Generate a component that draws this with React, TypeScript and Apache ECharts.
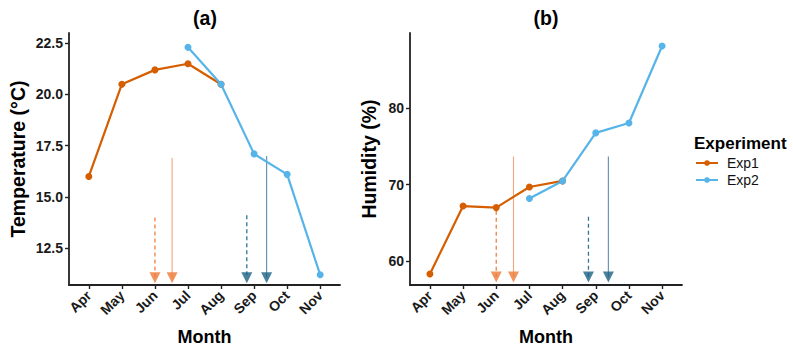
import React, { useEffect, useRef } from "react";
import * as echarts from "echarts";

// Month positions on a numeric axis (Apr = 1 ... Nov = 8)
const months = ["Apr", "May", "Jun", "Jul", "Aug", "Sep", "Oct", "Nov"];
const monthPos = [1, 2, 3, 4, 5, 6, 7, 8];

// Panel (a): temperature (°C)
const tempExp1 = [16.0, 20.5, 21.2, 21.5, 20.5]; // Apr–Aug
const tempExp2 = [22.3, 20.5, 17.1, 16.1, 11.2]; // Jul–Nov
const tempTicks = [12.5, 15.0, 17.5, 20.0, 22.5];

// Panel (b): humidity (%)
const humExp1 = [58.3, 67.2, 67.0, 69.7, 70.5]; // Apr–Aug
const humExp2 = [68.2, 70.5, 76.8, 78.1, 88.2]; // Jul–Nov
const humTicks = [60, 70, 80];

// Event markers: month position, start value, end value (per panel)
const eventX = [3.0, 3.52, 5.78, 6.38];
const eventDashed = [true, false, true, false];
const eventLineColor = ["#F08040", "#F5A57C", "#2F7399", "#5B8EAE"];
const eventHeadColor = ["#EE7A36", "#EE7A36", "#1B6283", "#1B6283"];
const tempEventStart = [14.0, 16.9, 14.1, 17.0];
const tempEventEnd = 11.05;
const humEventStart = [66.6, 73.7, 65.8, 73.7];
const humEventEnd = 57.9;

const exp1Color = "#D55E00";
const exp2Color = "#56B4E9";
const font = "'Liberation Sans', Arial, sans-serif";

function pairs(xs: number[], ys: number[]) {
  return ys.map((y, i) => [xs[i], y]);
}

function eventSeries(panel: number, starts: number[], end: number) {
  const out: any[] = [];
  eventX.forEach((x, i) => {
    out.push({
      type: "line",
      name: `event-${panel}-${i}`,
      xAxisIndex: panel,
      yAxisIndex: panel,
      data: [
        [x, starts[i]],
        [x, end],
      ],
      showSymbol: false,
      symbol: "none",
      lineStyle: {
        color: eventLineColor[i],
        width: eventDashed[i] ? 1.3 : 1.1,
        type: eventDashed[i] ? [4, 3] : "solid",
      },
      silent: true,
      z: 3,
    });
    out.push({
      type: "scatter",
      name: `head-${panel}-${i}`,
      xAxisIndex: panel,
      yAxisIndex: panel,
      data: [[x, end]],
      symbol: "triangle",
      symbolRotate: 180,
      symbolSize: [11, 11],
      itemStyle: { color: eventHeadColor[i] },
      silent: true,
      z: 4,
    });
  });
  return out;
}

function xAxisFor(gridIndex: number) {
  return {
    type: "value",
    gridIndex,
    min: 0.4,
    max: 8.6,
    name: "Month",
    nameLocation: "middle",
    nameGap: 43,
    nameTextStyle: { fontFamily: font, fontWeight: "bold", fontSize: 18, color: "#000" },
    splitLine: { show: false },
    axisLine: { show: true, onZero: false, lineStyle: { color: "#222", width: 1.8 } },
    axisTick: {
      show: true,
      customValues: monthPos,
      length: 4,
      lineStyle: { color: "#222", width: 1.4 },
    },
    axisLabel: {
      customValues: monthPos,
      rotate: 45,
      margin: 8,
      fontFamily: font,
      fontWeight: "bold",
      fontSize: 14,
      color: "#1a1a1a",
      formatter: (v: number) => months[Math.round(v) - 1] ?? "",
    },
  };
}

function yAxisFor(
  gridIndex: number,
  name: string,
  min: number,
  max: number,
  ticks: number[],
  decimals: number,
  nameGap: number
) {
  return {
    type: "value",
    gridIndex,
    min,
    max,
    name,
    nameLocation: "middle",
    nameGap,
    nameTextStyle: { fontFamily: font, fontWeight: "bold", fontSize: 19.5, color: "#000" },
    splitLine: { show: false },
    axisLine: { show: true, onZero: false, lineStyle: { color: "#222", width: 1.8 } },
    axisTick: {
      show: true,
      customValues: ticks,
      length: 4,
      lineStyle: { color: "#222", width: 1.4 },
    },
    axisLabel: {
      customValues: ticks,
      margin: 6,
      fontFamily: font,
      fontWeight: "bold",
      fontSize: 14,
      color: "#1a1a1a",
      formatter: (v: number) => v.toFixed(decimals),
    },
  };
}

function dataSeries(panel: number, name: string, color: string, xs: number[], ys: number[]) {
  return {
    type: "line",
    name,
    xAxisIndex: panel,
    yAxisIndex: panel,
    data: pairs(xs, ys),
    symbol: "circle",
    symbolSize: 7,
    showSymbol: true,
    lineStyle: { color, width: 2.2 },
    itemStyle: { color },
    z: 5,
  };
}

const titleStyle = { fontFamily: font, fontWeight: "bold", fontSize: 19.5, fill: "#000" };

export default function App() {
  const ref = useRef<HTMLDivElement>(null);

  useEffect(() => {
    document.body.style.margin = "0";
    if (!ref.current) return;
    const chart = echarts.init(ref.current, undefined, { renderer: "svg" });
    chart.setOption({
      animation: false,
      backgroundColor: "#ffffff",
      graphic: [
        {
          type: "text",
          x: 205,
          y: 18,
          style: { ...titleStyle, text: "(a)", align: "center", verticalAlign: "middle" },
        },
        {
          type: "text",
          x: 546,
          y: 18,
          style: { ...titleStyle, text: "(b)", align: "center", verticalAlign: "middle" },
        },
        {
          type: "text",
          x: 694,
          y: 143,
          style: {
            ...titleStyle,
            fontSize: 17,
            text: "Experiment",
            align: "left",
            verticalAlign: "middle",
          },
        },
      ],
      legend: {
        data: ["Exp1", "Exp2"],
        orient: "vertical",
        left: 695,
        top: 155,
        padding: 0,
        itemWidth: 22,
        itemHeight: 7,
        itemGap: 1,
        textStyle: {
          fontFamily: font,
          fontSize: 14,
          lineHeight: 16,
          color: "#111",
          padding: [0, 0, 0, 4],
        },
        selectedMode: false,
      },
      grid: [
        { left: 69, right: 453, top: 33, bottom: 65, containLabel: false, outerBoundsMode: "none" },
        { left: 410, right: 111, top: 33, bottom: 65, containLabel: false, outerBoundsMode: "none" },
      ],
      xAxis: [xAxisFor(0), xAxisFor(1)],
      yAxis: [
        yAxisFor(0, "Temperature (°C)", 10.7, 23.0, tempTicks, 1, 41),
        yAxisFor(1, "Humidity (%)", 56.85, 89.9, humTicks, 0, 31),
      ],
      series: [
        ...eventSeries(0, tempEventStart, tempEventEnd),
        ...eventSeries(1, humEventStart, humEventEnd),
        dataSeries(0, "Exp1", exp1Color, monthPos.slice(0, 5), tempExp1),
        dataSeries(0, "Exp2", exp2Color, monthPos.slice(3, 8), tempExp2),
        dataSeries(1, "Exp1", exp1Color, monthPos.slice(0, 5), humExp1),
        dataSeries(1, "Exp2", exp2Color, monthPos.slice(3, 8), humExp2),
      ],
    });
    return () => chart.dispose();
  }, []);

  return <div ref={ref} style={{ width: 793, height: 350 }} />;
}
